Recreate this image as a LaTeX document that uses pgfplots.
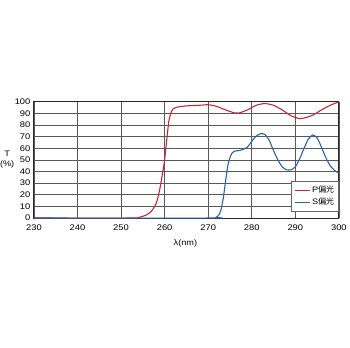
\documentclass[border=0pt]{standalone}
\usepackage{fontspec}
\setmainfont{Liberation Sans}[FakeStretch=1.15]
\newfontfamily\cjk{Noto Sans CJK JP}
\usepackage{pgfplots}
\pgfplotsset{compat=1.18}
\definecolor{pred}{RGB}{196,40,52}
\definecolor{sblue}{RGB}{40,100,165}
\begin{document}
\begin{tikzpicture}
\path (0pt,0pt) rectangle (350pt,350pt);
\begin{axis}[
  at={(34pt,130.5pt)}, anchor=south west, scale only axis,
  width=307pt, height=117pt,
  xmin=230, xmax=300, ymin=0, ymax=100,
  xtick={230,240,...,300}, ytick={0,10,...,100},
  grid=major, grid style={black!65, line width=0.7pt},
  axis line style={black!85, line width=0.9pt},
  major tick length=0pt,
  tick label style={font=\fontsize{8.2}{9}\selectfont},
  xticklabel style={yshift=-3.5pt},
  /pgf/number format/assume math mode=true,
  /pgf/number format/1000 sep={},
  legend style={at={(1,0.06)}, anchor=south east, font=\fontsize{8}{10}\selectfont, draw=black!60, line width=0.5pt, inner sep=2.5pt},
  legend cell align=left,
  legend image code/.code={\draw[#1, line width=1.2pt] (0pt,0pt) -- (15pt,0pt);},
]
\addplot[pred, line width=1.1pt, smooth, tension=0.4] coordinates {
(230,0) (252,0) (254,0.5) (255,1.5) (256,3) (257,6) (258,12) (258.5,18) (259,27) (259.5,38) (260,50) (260.5,68) (261,84) (261.5,91) (262,94) (263,95.5) (265,96.5) (268,97) (270,97.5) (272,96) (274,93) (276,90.5) (277,90.3) (279,93) (281,97) (283,98.5) (285,97) (287,93) (289,88) (291,85.5) (292,86) (294,88.5) (296,93) (298,97) (300,100)
};
\addlegendentry{P{\cjk 偏光}}
\addplot[sblue, line width=1.1pt, smooth, tension=0.4] coordinates {
(230,0) (271,0) (271.8,0.5) (272.5,3) (273,8) (273.5,18) (274,32) (274.5,45) (275,52) (275.5,56) (276,57.5) (277,58) (278,59) (279,61) (280,66) (281,70.5) (282,72.5) (283,72) (284,67) (285,58) (286,50) (287,44) (288,41.5) (289,41.5) (290,44) (291,51) (292,60) (293,68) (294,71.5) (295,69) (296,61) (297,52) (298,45) (299,41) (300,38.5)
};
\addlegendentry{S{\cjk 偏光}}
\end{axis}
\node[align=center, font=\fontsize{8}{10.5}\selectfont, inner sep=0pt] at (7pt,189.5pt) {T\\(\%)};
\node[font=\fontsize{8}{10}\selectfont] at (186.5pt,105pt) {λ(nm)};
\end{tikzpicture}
\end{document}
